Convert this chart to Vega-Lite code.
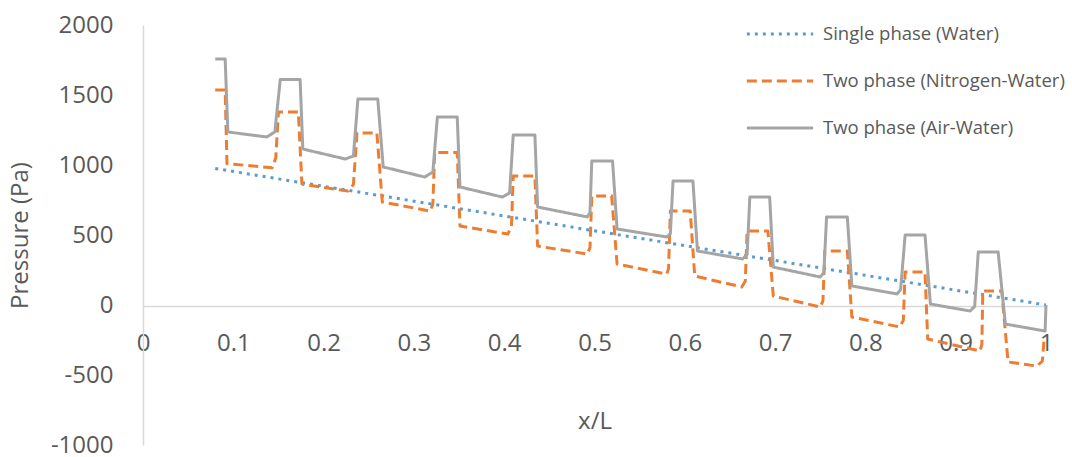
{
  "$schema": "https://vega.github.io/schema/vega-lite/v6.json",
  "width": 903,
  "height": 420,
  "autosize": {"type": "none"},
  "padding": {"left": 143, "top": 25, "right": 26, "bottom": 12},
  "background": "white",
  "config": {
    "font": "Open Sans",
    "view": {"stroke": null}
  },
  "data": {
    "values": [
      {"s": "Single phase (Water)", "x": 0.080, "p": 975},
      {"s": "Single phase (Water)", "x": 1.0, "p": 0},

      {"s": "Two phase (Nitrogen-Water)", "x": 0.080, "p": 1536},
      {"s": "Two phase (Nitrogen-Water)", "x": 0.091, "p": 1536},
      {"s": "Two phase (Nitrogen-Water)", "x": 0.093, "p": 1010},
      {"s": "Two phase (Nitrogen-Water)", "x": 0.143, "p": 980},
      {"s": "Two phase (Nitrogen-Water)", "x": 0.147, "p": 1050},
      {"s": "Two phase (Nitrogen-Water)", "x": 0.150, "p": 1379},
      {"s": "Two phase (Nitrogen-Water)", "x": 0.172, "p": 1379},
      {"s": "Two phase (Nitrogen-Water)", "x": 0.176, "p": 864},
      {"s": "Two phase (Nitrogen-Water)", "x": 0.227, "p": 814},
      {"s": "Two phase (Nitrogen-Water)", "x": 0.233, "p": 860},
      {"s": "Two phase (Nitrogen-Water)", "x": 0.237, "p": 1229},
      {"s": "Two phase (Nitrogen-Water)", "x": 0.259, "p": 1229},
      {"s": "Two phase (Nitrogen-Water)", "x": 0.265, "p": 736},
      {"s": "Two phase (Nitrogen-Water)", "x": 0.318, "p": 671},
      {"s": "Two phase (Nitrogen-Water)", "x": 0.321, "p": 720},
      {"s": "Two phase (Nitrogen-Water)", "x": 0.323, "p": 1090},
      {"s": "Two phase (Nitrogen-Water)", "x": 0.348, "p": 1090},
      {"s": "Two phase (Nitrogen-Water)", "x": 0.351, "p": 564},
      {"s": "Two phase (Nitrogen-Water)", "x": 0.404, "p": 507},
      {"s": "Two phase (Nitrogen-Water)", "x": 0.408, "p": 560},
      {"s": "Two phase (Nitrogen-Water)", "x": 0.410, "p": 921},
      {"s": "Two phase (Nitrogen-Water)", "x": 0.434, "p": 921},
      {"s": "Two phase (Nitrogen-Water)", "x": 0.437, "p": 421},
      {"s": "Two phase (Nitrogen-Water)", "x": 0.492, "p": 364},
      {"s": "Two phase (Nitrogen-Water)", "x": 0.495, "p": 410},
      {"s": "Two phase (Nitrogen-Water)", "x": 0.497, "p": 779},
      {"s": "Two phase (Nitrogen-Water)", "x": 0.519, "p": 779},
      {"s": "Two phase (Nitrogen-Water)", "x": 0.525, "p": 293},
      {"s": "Two phase (Nitrogen-Water)", "x": 0.580, "p": 221},
      {"s": "Two phase (Nitrogen-Water)", "x": 0.582, "p": 260},
      {"s": "Two phase (Nitrogen-Water)", "x": 0.584, "p": 671},
      {"s": "Two phase (Nitrogen-Water)", "x": 0.606, "p": 671},
      {"s": "Two phase (Nitrogen-Water)", "x": 0.611, "p": 207},
      {"s": "Two phase (Nitrogen-Water)", "x": 0.663, "p": 129},
      {"s": "Two phase (Nitrogen-Water)", "x": 0.667, "p": 170},
      {"s": "Two phase (Nitrogen-Water)", "x": 0.669, "p": 529},
      {"s": "Two phase (Nitrogen-Water)", "x": 0.692, "p": 529},
      {"s": "Two phase (Nitrogen-Water)", "x": 0.698, "p": 64},
      {"s": "Two phase (Nitrogen-Water)", "x": 0.750, "p": -14},
      {"s": "Two phase (Nitrogen-Water)", "x": 0.753, "p": 30},
      {"s": "Two phase (Nitrogen-Water)", "x": 0.755, "p": 386},
      {"s": "Two phase (Nitrogen-Water)", "x": 0.780, "p": 386},
      {"s": "Two phase (Nitrogen-Water)", "x": 0.785, "p": -86},
      {"s": "Two phase (Nitrogen-Water)", "x": 0.838, "p": -157},
      {"s": "Two phase (Nitrogen-Water)", "x": 0.842, "p": -110},
      {"s": "Two phase (Nitrogen-Water)", "x": 0.844, "p": 236},
      {"s": "Two phase (Nitrogen-Water)", "x": 0.866, "p": 236},
      {"s": "Two phase (Nitrogen-Water)", "x": 0.869, "p": -243},
      {"s": "Two phase (Nitrogen-Water)", "x": 0.927, "p": -329},
      {"s": "Two phase (Nitrogen-Water)", "x": 0.929, "p": -280},
      {"s": "Two phase (Nitrogen-Water)", "x": 0.930, "p": 100},
      {"s": "Two phase (Nitrogen-Water)", "x": 0.951, "p": 100},
      {"s": "Two phase (Nitrogen-Water)", "x": 0.958, "p": -407},
      {"s": "Two phase (Nitrogen-Water)", "x": 0.990, "p": -436},
      {"s": "Two phase (Nitrogen-Water)", "x": 0.996, "p": -400},
      {"s": "Two phase (Nitrogen-Water)", "x": 0.998, "p": -230},

      {"s": "Two phase (Air-Water)", "x": 0.080, "p": 1757},
      {"s": "Two phase (Air-Water)", "x": 0.091, "p": 1757},
      {"s": "Two phase (Air-Water)", "x": 0.094, "p": 1236},
      {"s": "Two phase (Air-Water)", "x": 0.137, "p": 1200},
      {"s": "Two phase (Air-Water)", "x": 0.146, "p": 1236},
      {"s": "Two phase (Air-Water)", "x": 0.152, "p": 1610},
      {"s": "Two phase (Air-Water)", "x": 0.174, "p": 1610},
      {"s": "Two phase (Air-Water)", "x": 0.177, "p": 1114},
      {"s": "Two phase (Air-Water)", "x": 0.224, "p": 1043},
      {"s": "Two phase (Air-Water)", "x": 0.233, "p": 1064},
      {"s": "Two phase (Air-Water)", "x": 0.238, "p": 1471},
      {"s": "Two phase (Air-Water)", "x": 0.260, "p": 1471},
      {"s": "Two phase (Air-Water)", "x": 0.266, "p": 986},
      {"s": "Two phase (Air-Water)", "x": 0.312, "p": 914},
      {"s": "Two phase (Air-Water)", "x": 0.321, "p": 950},
      {"s": "Two phase (Air-Water)", "x": 0.326, "p": 1343},
      {"s": "Two phase (Air-Water)", "x": 0.348, "p": 1343},
      {"s": "Two phase (Air-Water)", "x": 0.351, "p": 843},
      {"s": "Two phase (Air-Water)", "x": 0.398, "p": 771},
      {"s": "Two phase (Air-Water)", "x": 0.406, "p": 800},
      {"s": "Two phase (Air-Water)", "x": 0.410, "p": 1214},
      {"s": "Two phase (Air-Water)", "x": 0.434, "p": 1214},
      {"s": "Two phase (Air-Water)", "x": 0.437, "p": 700},
      {"s": "Two phase (Air-Water)", "x": 0.492, "p": 629},
      {"s": "Two phase (Air-Water)", "x": 0.495, "p": 660},
      {"s": "Two phase (Air-Water)", "x": 0.497, "p": 1029},
      {"s": "Two phase (Air-Water)", "x": 0.520, "p": 1029},
      {"s": "Two phase (Air-Water)", "x": 0.525, "p": 543},
      {"s": "Two phase (Air-Water)", "x": 0.580, "p": 486},
      {"s": "Two phase (Air-Water)", "x": 0.584, "p": 510},
      {"s": "Two phase (Air-Water)", "x": 0.587, "p": 886},
      {"s": "Two phase (Air-Water)", "x": 0.609, "p": 886},
      {"s": "Two phase (Air-Water)", "x": 0.614, "p": 386},
      {"s": "Two phase (Air-Water)", "x": 0.664, "p": 329},
      {"s": "Two phase (Air-Water)", "x": 0.669, "p": 360},
      {"s": "Two phase (Air-Water)", "x": 0.672, "p": 771},
      {"s": "Two phase (Air-Water)", "x": 0.694, "p": 771},
      {"s": "Two phase (Air-Water)", "x": 0.698, "p": 271},
      {"s": "Two phase (Air-Water)", "x": 0.750, "p": 200},
      {"s": "Two phase (Air-Water)", "x": 0.754, "p": 230},
      {"s": "Two phase (Air-Water)", "x": 0.757, "p": 629},
      {"s": "Two phase (Air-Water)", "x": 0.780, "p": 629},
      {"s": "Two phase (Air-Water)", "x": 0.785, "p": 136},
      {"s": "Two phase (Air-Water)", "x": 0.835, "p": 79},
      {"s": "Two phase (Air-Water)", "x": 0.839, "p": 110},
      {"s": "Two phase (Air-Water)", "x": 0.844, "p": 500},
      {"s": "Two phase (Air-Water)", "x": 0.866, "p": 500},
      {"s": "Two phase (Air-Water)", "x": 0.872, "p": 7},
      {"s": "Two phase (Air-Water)", "x": 0.916, "p": -43},
      {"s": "Two phase (Air-Water)", "x": 0.921, "p": -10},
      {"s": "Two phase (Air-Water)", "x": 0.925, "p": 379},
      {"s": "Two phase (Air-Water)", "x": 0.947, "p": 379},
      {"s": "Two phase (Air-Water)", "x": 0.955, "p": -136},
      {"s": "Two phase (Air-Water)", "x": 0.999, "p": -186},
      {"s": "Two phase (Air-Water)", "x": 1.0, "p": 0}
    ]
  },
  "mark": {"type": "line", "strokeWidth": 3, "strokeJoin": "round"},
  "encoding": {
    "x": {
      "field": "x",
      "type": "quantitative",
      "scale": {"domain": [0, 1], "nice": false, "zero": false},
      "axis": {
        "values": [0, 0.1, 0.2, 0.3, 0.4, 0.5, 0.6, 0.7, 0.8, 0.9, 1],
        "format": "~g",
        "title": "x/L",
        "offset": -139,
        "grid": false,
        "ticks": false,
        "domainColor": "#D9D9D9",
        "domainWidth": 1.5,
        "labelFontSize": 24,
        "labelColor": "#595959",
        "labelPadding": 25,
        "labelFlush": false,
        "labelOverlap": false,
        "titleFontSize": 24,
        "titleFontWeight": "normal",
        "titleColor": "#595959",
        "titlePadding": 54
      }
    },
    "y": {
      "field": "p",
      "type": "quantitative",
      "scale": {"domain": [-1000, 2000], "nice": false},
      "axis": {
        "values": [-1000, -500, 0, 500, 1000, 1500, 2000],
        "labelExpr": "'' + datum.value",
        "title": "Pressure (Pa)",
        "grid": false,
        "ticks": false,
        "domainColor": "#D9D9D9",
        "domainWidth": 1.5,
        "labelFontSize": 24,
        "labelColor": "#595959",
        "labelPadding": 30,
        "titleFontSize": 24,
        "titleFontWeight": "normal",
        "titleColor": "#595959",
        "titlePadding": 18
      }
    },
    "color": {
      "field": "s",
      "type": "nominal",
      "scale": {
        "domain": ["Single phase (Water)", "Two phase (Nitrogen-Water)", "Two phase (Air-Water)"],
        "range": ["#5B9BD5", "#ED7D31", "#A5A5A5"]
      },
      "legend": {
        "title": null,
        "orient": "none",
        "legendX": 602,
        "legendY": -26,
        "symbolType": "stroke",
        "symbolSize": 4400,
        "symbolStrokeWidth": 3,
        "labelFontSize": 18.5,
        "labelColor": "#595959",
        "labelOffset": 8,
        "labelLimit": 400,
        "rowPadding": 2
      }
    },
    "strokeDash": {
      "field": "s",
      "type": "nominal",
      "scale": {
        "domain": ["Single phase (Water)", "Two phase (Nitrogen-Water)", "Two phase (Air-Water)"],
        "range": [[3, 5], [10, 5], [1, 0]]
      }
    },
    "order": {"value": null}
  }
}
